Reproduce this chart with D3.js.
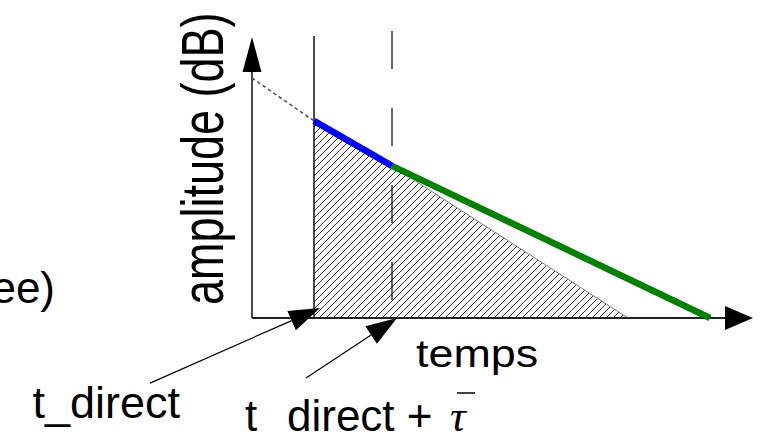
<!DOCTYPE html>
<html><head><meta charset="utf-8">
<script src="https://cdn.jsdelivr.net/npm/d3@7/dist/d3.min.js"></script>
<style>html,body{margin:0;padding:0;background:#fff;}svg{display:block;}</style>
</head><body>
<svg id="c" width="760" height="440"></svg>
<script>
// ---- data (time in arbitrary units, amplitude in dB) ----
const decayInitial = [[0, 80], [1.24, 65.7]];      // dotted extrapolation
const decayEarly   = [[1.24, 65.7], [2.8, 50.7]];   // blue segment
const decayLate    = [[2.8, 50.7], [9.16, 0]];      // green segment
const hatchArea    = [[1.24, 65.7], [2.8, 50.7], [7.52, 0], [1.24, 0]];
const markTimes    = [1.24, 2.8];                   // t_direct, t_direct + tau
const axisX        = [0, 10.02];
const axisY        = [0, 93.7];
const annotArrows  = [[[-2.04, -21.7], [1.36, 3.3]], [[1.08, -20], [2.9, 0]]];
const yLabel = "amplitude (dB)";
const xLabel = "temps";
const labelDirect = "t_direct";
const labelDirectTau = ["t", "direct +", "\u03C4"];
const clippedLabel = "ee)";

const svg = d3.select("#c");
const x = d3.scaleLinear().domain([0, 10]).range([252, 752]);
const y = d3.scaleLinear().domain([0, 100]).range([318, 18]);
const line = d3.line().x(d => x(d[0])).y(d => y(d[1]));

// hatch pattern
const defs = svg.append("defs");
const pat = defs.append("pattern").attr("id", "hatch").attr("patternUnits", "userSpaceOnUse")
  .attr("width", 7).attr("height", 7);
pat.append("path").attr("d", "M-1,1 l2,-2 M0,7 l7,-7 M6,8 l2,-2")
  .attr("stroke", "#333").attr("stroke-width", 1);

svg.append("path").datum(hatchArea).attr("d", d => line(d) + "Z")
  .attr("fill", "url(#hatch)").attr("stroke", "none");
svg.append("path").datum(hatchArea.slice(1, 3)).attr("d", line)
  .attr("fill", "none").attr("stroke", "#777").attr("stroke-width", 1);

// arrowhead helper
function head(x1, y1, x2, y2, len, hw) {
  const dx = x2 - x1, dy = y2 - y1, L = Math.hypot(dx, dy);
  const ux = dx / L, uy = dy / L, bx = x2 - ux * len, by = y2 - uy * len;
  return [[x2, y2], [bx - uy * hw, by + ux * hw], [bx + uy * hw, by - ux * hw]];
}
function drawHead(pts) {
  svg.append("path").attr("d", "M" + pts.map(p => p.join(",")).join("L") + "Z").attr("fill", "#000");
}

// axes
const ax0 = x(axisX[0]), ay0 = y(0);
svg.append("line").attr("x1", ax0).attr("y1", ay0).attr("x2", x(axisX[1]) - 27).attr("y2", ay0)
  .attr("stroke", "#222").attr("stroke-width", 2);
drawHead(head(ax0, ay0, x(axisX[1]), ay0, 28, 12));
svg.append("line").attr("x1", ax0).attr("y1", ay0).attr("x2", ax0).attr("y2", y(axisY[1]) + 34)
  .attr("stroke", "#000").attr("stroke-width", 1.4);
drawHead(head(ax0, ay0, ax0, y(axisY[1]), 35, 9.5));

// vertical markers
svg.append("line").attr("x1", x(markTimes[0])).attr("x2", x(markTimes[0]))
  .attr("y1", y(94)).attr("y2", y(0)).attr("stroke", "#000").attr("stroke-width", 1.4);
svg.append("line").attr("x1", x(markTimes[1])).attr("x2", x(markTimes[1]))
  .attr("y1", y(95.7)).attr("y2", y(6)).attr("stroke", "#000").attr("stroke-width", 1.2)
  .attr("stroke-dasharray", "38 39");

// decay lines
svg.append("path").datum(decayInitial).attr("d", line).attr("fill", "none")
  .attr("stroke", "#555").attr("stroke-width", 1.6).attr("stroke-dasharray", "3.5 3");
svg.append("path").datum(decayEarly).attr("d", line).attr("fill", "none")
  .attr("stroke", "#0000ff").attr("stroke-width", 6.5);
svg.append("path").datum(decayLate).attr("d", line).attr("fill", "none")
  .attr("stroke", "#008000").attr("stroke-width", 6.5);

// annotation arrows
annotArrows.forEach(a => {
  const [p, q] = a;
  const x1 = x(p[0]), y1 = y(p[1]), x2 = x(q[0]), y2 = y(q[1]);
  const h = head(x1, y1, x2, y2, 31, 10.5);
  const bx = (h[1][0] + h[2][0]) / 2, by = (h[1][1] + h[2][1]) / 2;
  svg.append("line").attr("x1", x1).attr("y1", y1).attr("x2", bx).attr("y2", by)
    .attr("stroke", "#000").attr("stroke-width", 1.2);
  drawHead(h);
});

// texts
const font = "Liberation Sans, Arial, sans-serif";
svg.append("text").attr("transform", "translate(223,305) scale(1.3,1) rotate(-90)")
  .attr("font-family", font).attr("font-size", 45).attr("fill", "#000").text(yLabel);
svg.append("text").attr("transform", "translate(416,367) scale(1.18,1)")
  .attr("font-family", font).attr("font-size", 38).attr("fill", "#000").text(xLabel);
svg.append("text").attr("x", 180).attr("y", 418).attr("text-anchor", "end")
  .attr("font-family", font).attr("font-size", 45).attr("fill", "#000").text(labelDirect);
svg.append("text").attr("x", 245).attr("y", 431)
  .attr("font-family", font).attr("font-size", 44).attr("fill", "#000").text(labelDirectTau[0]);
svg.append("text").attr("x", 287).attr("y", 431)
  .attr("font-family", font).attr("font-size", 44).attr("fill", "#000").text(labelDirectTau[1]);
svg.append("text").attr("x", 450).attr("y", 431)
  .attr("font-family", "Liberation Serif, Times New Roman, serif").attr("font-style", "italic")
  .attr("font-size", 44).attr("fill", "#000").text(labelDirectTau[2]);
svg.append("line").attr("x1", 457).attr("x2", 475).attr("y1", 393).attr("y2", 393)
  .attr("stroke", "#000").attr("stroke-width", 1.5);
svg.append("text").attr("x", 55).attr("y", 303).attr("text-anchor", "end")
  .attr("font-family", font).attr("font-size", 44).attr("fill", "#000").text(clippedLabel);
</script>
</body></html>
